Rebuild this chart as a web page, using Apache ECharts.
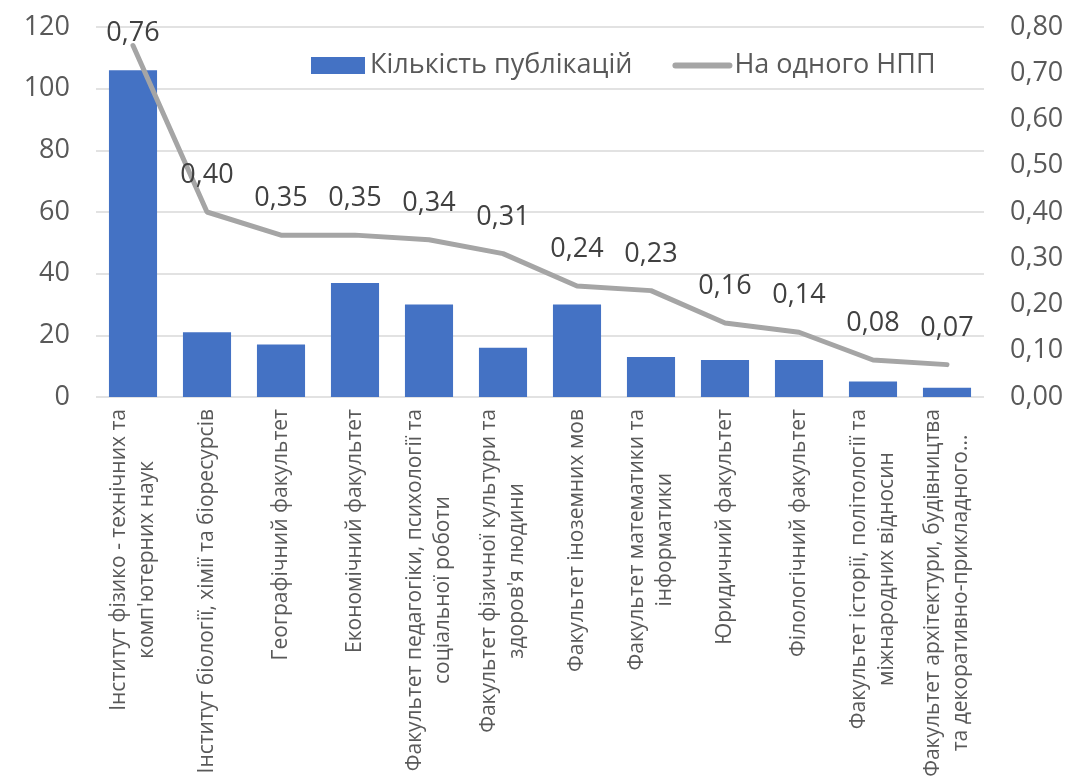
<!DOCTYPE html>
<html>
<head>
<meta charset="utf-8">
<script src="https://cdn.jsdelivr.net/npm/echarts@6/dist/echarts.min.js"></script>
<style>
  html, body { margin: 0; padding: 0; background: #fff; }
  #chart { width: 1076px; height: 782px; }
</style>
</head>
<body>
<div id="chart"></div>
<script>
// categories (line 1 / line 2 as on the picture)
var categories = [
  ['Інститут фізико - технічних та', 'комп\'ютерних наук'],
  ['Інститут біології, хімії та біоресурсів'],
  ['Географічний факультет'],
  ['Економічний факультет'],
  ['Факультет педагогіки, психології та', 'соціальної роботи'],
  ['Факультет фізичної культури та', 'здоров\'я людини'],
  ['Факультет іноземних мов'],
  ['Факультет математики та', 'інформатики'],
  ['Юридичний факультет'],
  ['Філологічний факультет'],
  ['Факультет історії, політології та', 'міжнародних відносин'],
  ['Факультет архітектури, будівництва', 'та декоративно-прикладного...']
];
var publications = [106, 21, 17, 37, 30, 16, 30, 13, 12, 12, 5, 3];
var perStaff = [0.76, 0.40, 0.35, 0.35, 0.34, 0.31, 0.24, 0.23, 0.16, 0.14, 0.08, 0.07];
var leftTicks = { min: 0, max: 120, interval: 20 };
var rightTicks = { min: 0, max: 0.8, interval: 0.1 };

var myChart = echarts.init(document.getElementById('chart'));

var catNames = categories.map(function (c) { return c.join('\n'); });

var lineData = perStaff.map(function (v, i) {
  var item = { value: v };
  if (i === 0) {
    item.label = { offset: [0, 24] }; // excel keeps first label inside the plot
  }
  return item;
});

var fmt2 = function (v) { return v.toFixed(2).replace('.', ','); };

myChart.setOption({
  animation: false,
  textStyle: { fontFamily: 'Open Sans' },
  grid: {
    left: 96,
    right: 92,
    top: 27,
    bottom: 385,
    containLabel: false,
    outerBoundsMode: 'none'
  },
  legend: {
    top: 47,
    left: 306,
    itemGap: 40,
    itemWidth: 54,
    itemHeight: 17,
    data: [
      { name: 'Кількість публікацій', icon: 'rect' },
      {
        name: 'На одного НПП',
        itemStyle: { opacity: 0 },
        lineStyle: { width: 6, cap: 'round', color: '#A5A5A5' }
      }
    ],
    textStyle: { color: '#595959', fontSize: 27, fontFamily: 'Open Sans' }
  },
  xAxis: {
    type: 'category',
    data: catNames,
    axisLine: { show: false },
    axisTick: { show: false },
    axisLabel: {
      interval: 0,
      rotate: 90,
      margin: 12,
      color: '#595959',
      fontSize: 21,
      lineHeight: 28,
      formatter: function (v) {
        return v.split('\n').map(function (s) { return '{c|' + s + '}'; }).join('\n');
      },
      rich: {
        c: { align: 'center', fontSize: 21, lineHeight: 28, color: '#595959', fontFamily: 'Open Sans' }
      }
    }
  },
  yAxis: [
    {
      type: 'value',
      min: leftTicks.min,
      max: leftTicks.max,
      interval: leftTicks.interval,
      axisLine: { show: false },
      axisTick: { show: false },
      axisLabel: { color: '#595959', fontSize: 27, margin: 26 },
      splitLine: { lineStyle: { color: '#D9D9D9', width: 1.5 } }
    },
    {
      type: 'value',
      min: rightTicks.min,
      max: rightTicks.max,
      interval: rightTicks.interval,
      axisLine: { show: false },
      axisTick: { show: false },
      splitLine: { show: false },
      axisLabel: { color: '#595959', fontSize: 27, margin: 26, formatter: fmt2 }
    }
  ],
  series: [
    {
      name: 'Кількість публікацій',
      type: 'bar',
      data: publications,
      barWidth: '65%',
      itemStyle: { color: '#4472C4' }
    },
    {
      name: 'На одного НПП',
      type: 'line',
      yAxisIndex: 1,
      data: lineData,
      symbol: 'circle',
      symbolSize: 2,
      showSymbol: true,
      lineStyle: { color: '#A5A5A5', width: 5, cap: 'round' },
      itemStyle: { color: '#A5A5A5' },
      label: {
        show: true,
        position: 'top',
        distance: 22,
        color: '#404040',
        fontSize: 27,
        formatter: function (p) { return fmt2(p.value); }
      }
    }
  ]
});
</script>
</body>
</html>
